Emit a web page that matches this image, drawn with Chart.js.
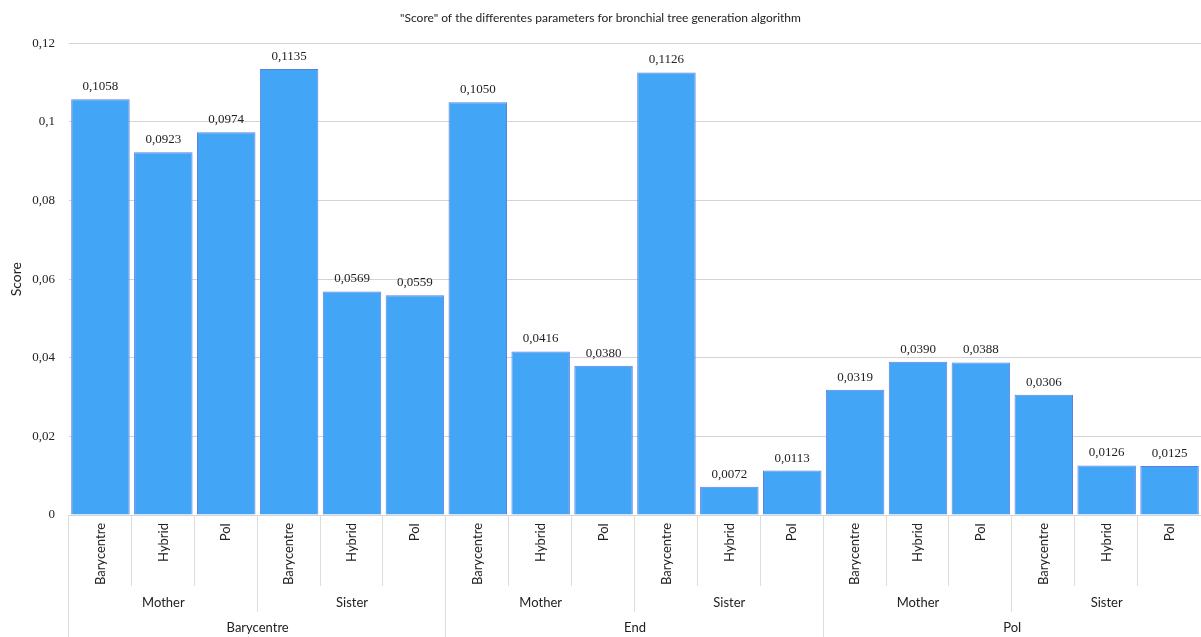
<!DOCTYPE html>
<html lang="en">
<head>
<meta charset="UTF-8">
<title>Score chart</title>
<script src="https://cdn.jsdelivr.net/npm/chart.js"></script>
<style>
    body { margin: 0; background: #fff; }
    .box { width: 1201px; height: 637px; }
</style>
</head>
<body>
<div class="box"><canvas id="myChart"></canvas></div>
<script>
// data
const leafLabels = ['Barycentre', 'Hybrid', 'PoI', 'Barycentre', 'Hybrid', 'PoI',
                    'Barycentre', 'Hybrid', 'PoI', 'Barycentre', 'Hybrid', 'PoI',
                    'Barycentre', 'Hybrid', 'PoI', 'Barycentre', 'Hybrid', 'PoI'];
const midLabels = ['Mother', 'Sister', 'Mother', 'Sister', 'Mother', 'Sister'];
const topLabels = ['Barycentre', 'End', 'PoI'];
const scores = [0.1058, 0.0923, 0.0974, 0.1135, 0.0569, 0.0559,
                0.1050, 0.0416, 0.0380, 0.1126, 0.0072, 0.0113,
                0.0319, 0.0390, 0.0388, 0.0306, 0.0126, 0.0125];

const sansFont = 'Lato';
const serifFont = 'Liberation Serif';

const fmt = v => v.toFixed(4).replace('.', ',');

// separators between the category groups
const groupLines = {
    id: 'groupLines',
    afterDraw(chart) {
        const ctx = chart.ctx;
        const x = chart.scales.x, x2 = chart.scales.x2, x3 = chart.scales.x3;
        ctx.save();
        ctx.strokeStyle = '#dddddd';
        ctx.lineWidth = 1;
        for (let k = 0; k < leafLabels.length; k++) {
            let px = Math.round(x.getPixelForValue(k - 0.5)) - 0.5;
            let end = x.bottom;
            if (k % 6 == 0) end = x3.bottom;
            else if (k % 3 == 0) end = x2.bottom;
            ctx.beginPath();
            ctx.moveTo(px, x.top);
            ctx.lineTo(px, end);
            ctx.stroke();
        }
        ctx.restore();
    }
};

// value above each bar
const valueLabels = {
    id: 'valueLabels',
    afterDatasetsDraw(chart) {
        const ctx = chart.ctx;
        const meta = chart.getDatasetMeta(0);
        ctx.save();
        ctx.font = '13px "' + serifFont + '"';
        ctx.fillStyle = '#222';
        ctx.textAlign = 'center';
        ctx.textBaseline = 'bottom';
        meta.data.forEach((bar, i) => {
            ctx.fillText(fmt(scores[i]), bar.x, bar.y - 6);
        });
        ctx.restore();
    }
};

const config = {
    type: 'bar',
    data: {
        labels: leafLabels,
        datasets: [{
            label: 'Score',
            data: scores,
            backgroundColor: '#42A5F5',
            borderColor: '#5f7fdf',
            borderWidth: 1,
            barPercentage: 0.93,
            categoryPercentage: 1
        }]
    },
    options: {
        responsive: true,
        maintainAspectRatio: false,
        animation: false,
        layout: { padding: 0 },
        plugins: {
            legend: { display: false },
            tooltip: { enabled: false },
            title: {
                display: true,
                text: '"Score" of the differentes parameters for bronchial tree generation algorithm',
                color: '#222',
                font: { family: sansFont, size: 12, weight: 'normal' },
                padding: { top: 11, bottom: 18 }
            }
        },
        scales: {
            y: {
                min: 0,
                max: 0.12,
                ticks: {
                    stepSize: 0.02,
                    color: '#222',
                    padding: 14,
                    font: { family: serifFont, size: 13 },
                    callback: v => v == 0 ? '0' : String(+v.toFixed(2)).replace('.', ',')
                },
                grid: { color: '#d4d4d4', drawTicks: false },
                border: { display: false },
                title: {
                    display: true,
                    text: 'Score',
                    color: '#222',
                    font: { family: sansFont, size: 14 },
                    padding: { top: 8, bottom: 4 }
                },
                afterFit: s => { s.width = 69; }
            },
            x: {
                position: 'bottom',
                offset: true,
                ticks: {
                    minRotation: 90,
                    maxRotation: 90,
                    autoSkip: false,
                    padding: 0,
                    color: '#222',
                    font: { family: sansFont, size: 13 }
                },
                grid: { display: false },
                border: { display: false },
                afterFit: s => { s.height = 71; }
            },
            x2: {
                type: 'category',
                position: 'bottom',
                labels: midLabels,
                offset: true,
                ticks: {
                    autoSkip: false,
                    padding: 1,
                    color: '#222',
                    font: { family: sansFont, size: 13 }
                },
                grid: { display: false },
                border: { display: false },
                afterFit: s => { s.height = 26; }
            },
            x3: {
                type: 'category',
                position: 'bottom',
                labels: topLabels,
                offset: true,
                ticks: {
                    autoSkip: false,
                    padding: 0,
                    color: '#222',
                    font: { family: sansFont, size: 13 }
                },
                grid: { display: false },
                border: { display: false },
                afterFit: s => { s.height = 25; }
            }
        }
    },
    plugins: [groupLines, valueLabels]
};

const myChart = new Chart(document.getElementById('myChart'), config);
</script>
</body>
</html>
